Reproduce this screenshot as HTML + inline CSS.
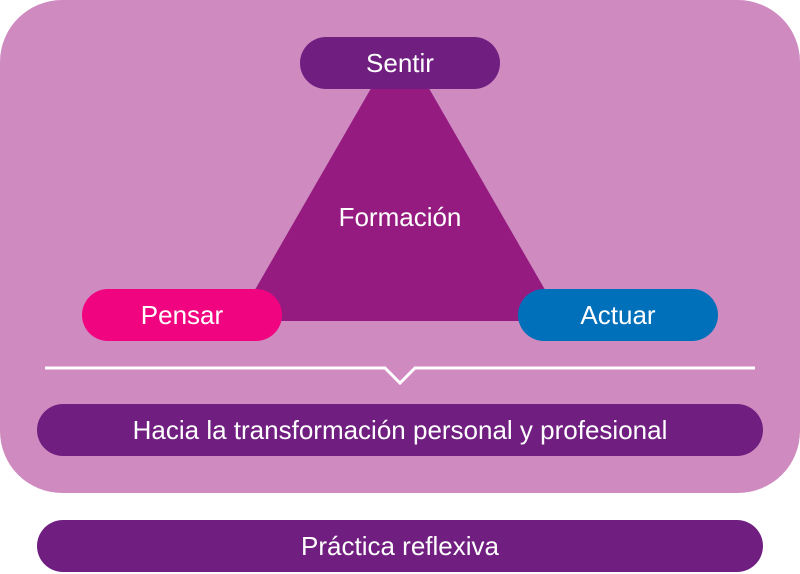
<!DOCTYPE html><html><head><style>
body{margin:0;width:800px;height:574px;background:#fff;font-family:"Liberation Sans",sans-serif;position:relative;overflow:hidden}
.bg{position:absolute;left:0;top:0;width:800px;height:493px;background:#CF8BC0;border-radius:62px}
.p{position:absolute;color:#fff;display:flex;align-items:center;justify-content:center;border-radius:27px;font-size:26px}
</style></head><body>
<div class="bg"></div>
<svg width="800" height="574" style="position:absolute;left:0;top:0">
<polygon points="400,38 237,321 563,321" fill="#951B81"/>
<polyline points="45,368 385,368 400,383 415,368 755,368" fill="none" stroke="#fff" stroke-width="3"/>
</svg>
<div class="p" style="left:300px;top:37px;width:200px;height:52px;background:#701F80">Sentir</div>
<div class="p" style="left:300px;top:192px;width:200px;height:50px">Formación</div>
<div class="p" style="left:82px;top:289px;width:200px;height:52px;background:#F0047F">Pensar</div>
<div class="p" style="left:518px;top:289px;width:200px;height:52px;background:#0070BA">Actuar</div>
<div class="p" style="left:37px;top:404px;width:726px;height:52px;background:#701F80">Hacia la transformación personal y profesional</div>
<div class="p" style="left:37px;top:520px;width:726px;height:52px;background:#701F80">Práctica reflexiva</div>
</body></html>
